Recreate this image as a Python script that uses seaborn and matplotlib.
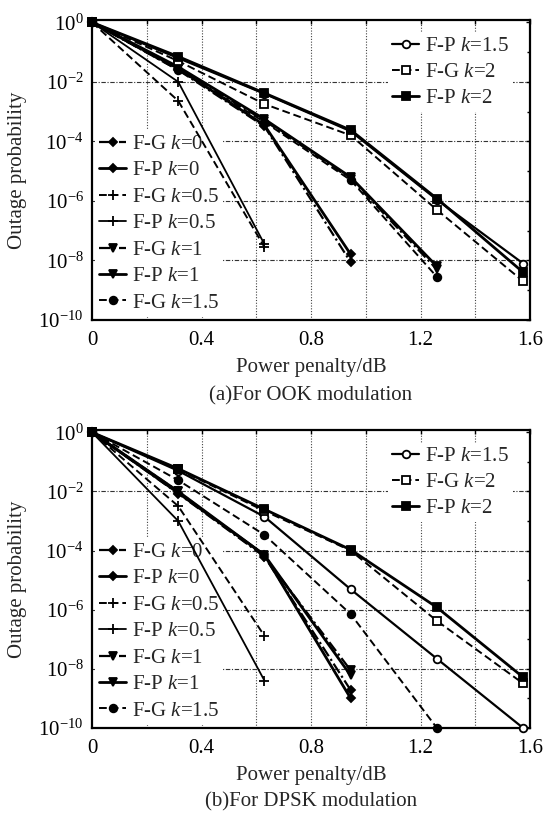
import numpy as np
import pandas as pd
import matplotlib
matplotlib.use("Agg")
import matplotlib.pyplot as plt
import seaborn as sns
from matplotlib.ticker import FixedLocator, FixedFormatter, NullFormatter

sns.set_style("white")
plt.rcParams['font.family'] = ['Liberation Serif', 'DejaVu Serif']
plt.rcParams['mathtext.fontset'] = 'custom'
plt.rcParams['mathtext.rm'] = 'Liberation Serif'
plt.rcParams['mathtext.it'] = 'Liberation Serif:italic'

# ---- data ----
x_pts = [0.0, 0.315, 0.63, 0.945, 1.26, 1.575]
labels = ["F-G $k$=0", "F-P $k$=0", "F-G $k$=0.5", "F-P $k$=0.5", "F-G $k$=1",
          "F-P $k$=1", "F-G $k$=1.5", "F-P $k$=1.5", "F-G $k$=2", "F-P $k$=2"]

ook_fg_k0 = [1, 2.5e-2, 3.2e-4, 8.7e-9]
ook_fp_k0 = [1, 2.8e-2, 3.5e-4, 1.6e-8]
ook_fg_k05 = [1, 2.3e-3, 2.8e-8]
ook_fp_k05 = [1, 1.0e-2, 3.5e-8]
ook_fg_k1 = [1, 2.8e-2, 5.0e-4, 5.6e-6, 5.0e-9]
ook_fp_k1 = [1, 3.2e-2, 5.6e-4, 6.3e-6, 6.3e-9]
ook_fg_k15 = [1, 2.5e-2, 4.5e-4, 5.0e-6, 2.8e-9]
ook_fp_k15 = [1, 6.3e-2, 4.0e-3, 2.2e-4, 1.1e-6, 7.9e-9]
ook_fg_k2 = [1, 5.0e-2, 1.8e-3, 1.6e-4, 5.0e-7, 2.0e-9]
ook_fp_k2 = [1, 7.1e-2, 4.2e-3, 2.4e-4, 1.2e-6, 4.0e-9]

dpsk_fg_k0 = [1, 8.5e-3, 6.3e-5, 1.9e-9]
dpsk_fp_k0 = [1, 8.9e-3, 7.1e-5, 1.0e-9]
dpsk_fg_k05 = [1, 3.2e-3, 1.3e-7]
dpsk_fp_k05 = [1, 1.0e-3, 4.0e-9]
dpsk_fg_k1 = [1, 1.0e-2, 6.3e-5, 8.9e-9]
dpsk_fp_k1 = [1, 1.0e-2, 7.1e-5, 6.0e-9]
dpsk_fg_k15 = [1, 2.4e-2, 3.4e-4, 7.1e-7, 1.0e-10]
dpsk_fp_k15 = [1, 5.0e-2, 1.4e-3, 4.9e-6, 2.2e-8, 1.0e-10]
dpsk_fg_k2 = [1, 5.6e-2, 2.2e-3, 1.0e-4, 4.2e-7, 3.2e-9]
dpsk_fp_k2 = [1, 5.9e-2, 2.5e-3, 1.07e-4, 1.2e-6, 5.2e-9]

ook_series = [ook_fg_k0, ook_fp_k0, ook_fg_k05, ook_fp_k05, ook_fg_k1,
              ook_fp_k1, ook_fg_k15, ook_fp_k15, ook_fg_k2, ook_fp_k2]
dpsk_series = [dpsk_fg_k0, dpsk_fp_k0, dpsk_fg_k05, dpsk_fp_k05, dpsk_fg_k1,
               dpsk_fp_k1, dpsk_fg_k15, dpsk_fp_k15, dpsk_fg_k2, dpsk_fp_k2]

markers = ['D', 'D', '+', '+', 'v', 'v', 'o', 'o', 's', 's']
mfcs = ['k', 'k', 'k', 'k', 'k', 'k', 'k', 'white', 'white', 'k']
mss = [4.5, 4.5, 7, 7, 5.5, 5.5, 5.5, 5.5, 5.5, 5.5]
styles = [(0, (5, 1.5, 1, 1.5)), '-', (0, (4, 2)), '-', (0, (5, 1.5, 1, 1.5)), '-',
          (0, (4, 2)), '-', (0, (4, 2)), '-']
lws = [1.6, 2.0, 1.4, 1.3, 1.6, 2.0, 1.4, 1.6, 1.4, 2.0]

fig = plt.figure(figsize=(5.44, 8.17), dpi=100)
ax1 = fig.add_axes([92/544, 1-320/817, 438/544, 300/817])
ax2 = fig.add_axes([92/544, 1-728/817, 438/544, 298/817])


def draw(ax, series, caption, cap_y, lab_y):
    handles = []
    for i, vals in enumerate(series):
        df = pd.DataFrame({"x": x_pts[:len(vals)], "y": vals})
        sns.lineplot(data=df, x="x", y="y", ax=ax, color='black', linestyle=styles[i],
                     linewidth=lws[i], marker=markers[i], markersize=mss[i],
                     markerfacecolor=mfcs[i], markeredgecolor='black',
                     markeredgewidth=1.3, label=labels[i], legend=False, zorder=3,
                     clip_on=False)
        handles.append(ax.lines[-1])
    ax.set_yscale('log')
    ax.set_xlim(0, 1.6)
    ax.set_ylim(1e-10, 1.2)
    ax.xaxis.set_major_locator(FixedLocator(np.arange(0, 1.61, 0.2)))
    ax.xaxis.set_major_formatter(FixedFormatter(['0', '', '0.4', '', '0.8', '', '1.2', '', '1.6']))
    yt = [10.0**e for e in range(0, -11, -2)]
    ax.yaxis.set_major_locator(FixedLocator(yt))
    ax.yaxis.set_major_formatter(FixedFormatter(['$10^{%d}$' % e for e in range(0, -11, -2)]))
    ax.yaxis.set_minor_locator(FixedLocator([10.0**e for e in range(-1, -10, -2)]))
    ax.yaxis.set_minor_formatter(NullFormatter())
    ax.tick_params(axis='both', which='both', direction='in', top=True, right=True,
                   labelsize=15, colors='black', length=3, width=1.0)
    ax.tick_params(axis='x', which='major', pad=8)
    ax.tick_params(axis='y', which='major', pad=6)
    ax.tick_params(axis='y', which='minor', length=2)
    for sp in ax.spines.values():
        sp.set_color('black')
        sp.set_linewidth(1.6)
    for xv in np.arange(0.2, 1.5, 0.2):
        ax.axvline(xv, color='#444444', linestyle=(0, (1, 1.5)), linewidth=0.8, zorder=0.5)
    for yv in [1e-2, 1e-4, 1e-6, 1e-8]:
        ax.axhline(yv, color='#333333', linestyle=(0, (4, 1.5, 1, 1.5)), linewidth=0.8, zorder=0.5)
    ax.set_xlabel('Power penalty/dB', fontsize=15, labelpad=6)
    ax.set_ylabel('')
    leg1 = ax.legend(handles[:7], labels[:7], loc='lower left', bbox_to_anchor=(0.0, 0.0),
                     fontsize=15, frameon=True, framealpha=1, edgecolor='none',
                     facecolor='white', handlelength=1.3, handletextpad=0.25,
                     labelspacing=0.33, borderpad=0.2, borderaxespad=0.15, fancybox=False)
    leg1.set_zorder(1.5)
    ax.add_artist(leg1)
    leg2 = ax.legend(handles[7:], labels[7:], loc='upper right', bbox_to_anchor=(0.965, 0.965),
                     fontsize=15, frameon=True, framealpha=1, edgecolor='none',
                     facecolor='white', handlelength=1.3, handletextpad=0.25,
                     labelspacing=0.3, borderpad=0.2, borderaxespad=0.1, fancybox=False)
    leg2.set_zorder(1.5)
    fig.text(311/544, 1-cap_y/817, caption, ha='center', va='center', fontsize=15)
    fig.text(18/544, 1-lab_y/817, 'Outage probability', rotation=90, ha='center',
             va='center', fontsize=15)


draw(ax1, ook_series, '(a)For OOK modulation', 396, 170)
draw(ax2, dpsk_series, '(b)For DPSK modulation', 802, 579)

fig.savefig('out.png', dpi=100)
